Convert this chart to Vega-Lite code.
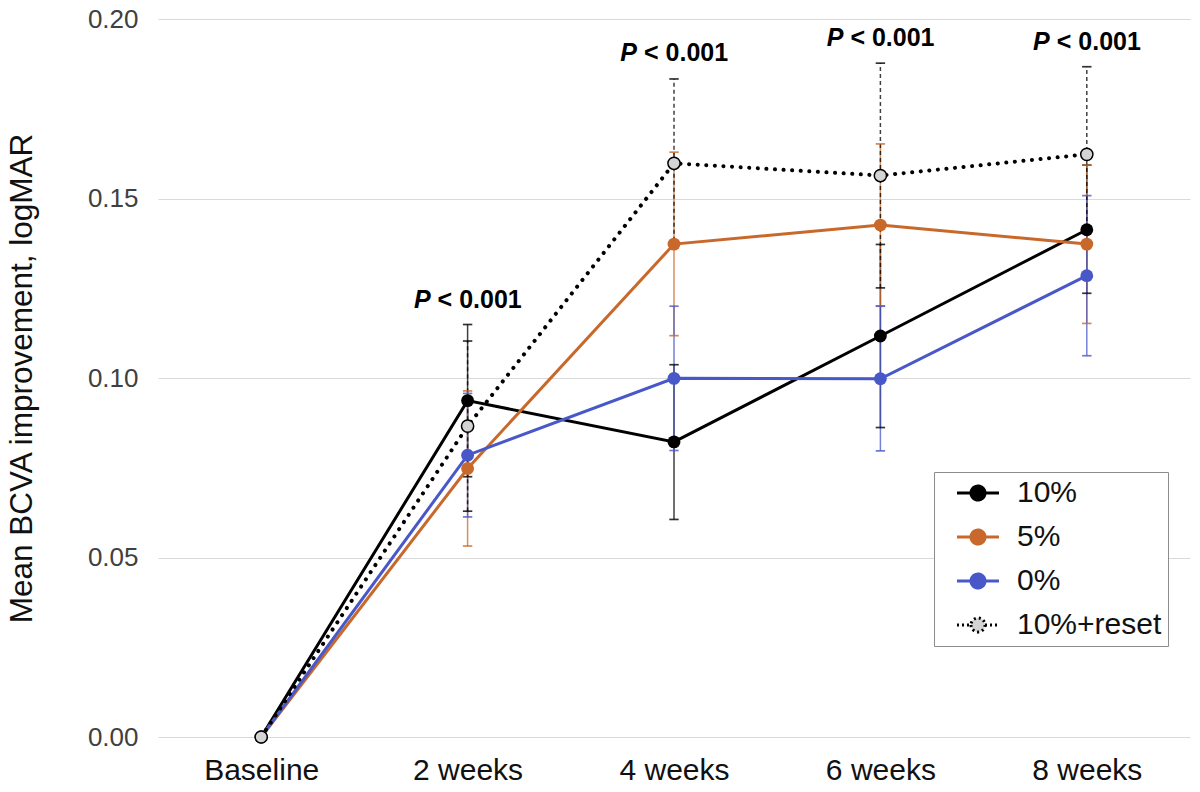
{
  "$schema": "https://vega.github.io/schema/vega-lite/v6.json",
  "autosize": {"type": "none"},
  "width": 1032,
  "height": 718,
  "padding": {"left": 158, "top": 19, "right": 10, "bottom": 55},
  "background": "white",
  "datasets": {
    "series": [
      {"group": "10%", "time": "Baseline", "week": 0, "mean": 0, "lo": 0, "hi": 0},
      {"group": "10%", "time": "2 weeks", "week": 2, "mean": 0.0937, "lo": 0.0725, "hi": 0.1149},
      {"group": "10%", "time": "4 weeks", "week": 4, "mean": 0.0822, "lo": 0.0606, "hi": 0.1037},
      {"group": "10%", "time": "6 weeks", "week": 6, "mean": 0.1117, "lo": 0.0862, "hi": 0.1372},
      {"group": "10%", "time": "8 weeks", "week": 8, "mean": 0.1413, "lo": 0.1236, "hi": 0.1593},
      {"group": "5%", "time": "Baseline", "week": 0, "mean": 0, "lo": 0, "hi": 0},
      {"group": "5%", "time": "2 weeks", "week": 2, "mean": 0.0748, "lo": 0.0532, "hi": 0.0964},
      {"group": "5%", "time": "4 weeks", "week": 4, "mean": 0.1373, "lo": 0.1118, "hi": 0.1629},
      {"group": "5%", "time": "6 weeks", "week": 6, "mean": 0.1426, "lo": 0.1201, "hi": 0.1652},
      {"group": "5%", "time": "8 weeks", "week": 8, "mean": 0.1373, "lo": 0.1152, "hi": 0.1593},
      {"group": "0%", "time": "Baseline", "week": 0, "mean": 0, "lo": 0, "hi": 0},
      {"group": "0%", "time": "2 weeks", "week": 2, "mean": 0.0785, "lo": 0.0613, "hi": 0.0957},
      {"group": "0%", "time": "4 weeks", "week": 4, "mean": 0.0999, "lo": 0.0798, "hi": 0.1200},
      {"group": "0%", "time": "6 weeks", "week": 6, "mean": 0.0998, "lo": 0.0797, "hi": 0.1200},
      {"group": "0%", "time": "8 weeks", "week": 8, "mean": 0.1285, "lo": 0.1062, "hi": 0.1508},
      {"group": "10%+reset", "time": "Baseline", "week": 0, "mean": 0, "lo": 0, "hi": 0},
      {"group": "10%+reset", "time": "2 weeks", "week": 2, "mean": 0.0866, "lo": 0.0629, "hi": 0.1103},
      {"group": "10%+reset", "time": "4 weeks", "week": 4, "mean": 0.1598, "lo": 0.1363, "hi": 0.1833},
      {"group": "10%+reset", "time": "6 weeks", "week": 6, "mean": 0.1564, "lo": 0.1251, "hi": 0.1877},
      {"group": "10%+reset", "time": "8 weeks", "week": 8, "mean": 0.1623, "lo": 0.1379, "hi": 0.1867}
    ],
    "pvals": [
      {"time": "2 weeks", "ypos": 0.1217, "p": "P", "rest": "< 0.001"},
      {"time": "4 weeks", "ypos": 0.1905, "p": "P", "rest": "< 0.001"},
      {"time": "6 weeks", "ypos": 0.1947, "p": "P", "rest": "< 0.001"},
      {"time": "8 weeks", "ypos": 0.1936, "p": "P", "rest": "< 0.001"}
    ]
  },
  "data": {"name": "series"},
  "encoding": {
    "x": {
      "field": "time",
      "type": "ordinal",
      "sort": ["Baseline", "2 weeks", "4 weeks", "6 weeks", "8 weeks"],
      "scale": {"type": "point", "padding": 0.5, "domain": ["Baseline", "2 weeks", "4 weeks", "6 weeks", "8 weeks"]},
      "axis": {"title": null, "labelAngle": 0, "domain": false, "ticks": false, "grid": false, "labelFontSize": 30, "labelColor": "#111111", "labelPadding": 18, "labelFont": "Liberation Sans"}
    }
  },
  "layer": [
    {
      "transform": [{"filter": "datum.time !== 'Baseline' && datum.group !== '10%+reset'"}],
      "mark": {"type": "rule", "strokeWidth": 1.5, "opacity": 1, "strokeOpacity": 0.75},
      "encoding": {
        "y": {"field": "lo", "type": "quantitative", "scale": {"domain": [0, 0.2], "nice": false}, "title": "Mean BCVA improvement, logMAR",
              "axis": {"values": [0, 0.05, 0.1, 0.15, 0.2], "format": ".2f"}},
        "y2": {"field": "hi"},
        "stroke": {"field": "group", "type": "nominal",
                   "scale": {"domain": ["10%", "5%", "0%", "10%+reset"], "range": ["#000000", "#C8692B", "#4858C8", "#000000"]}}
      }
    },
    {
      "transform": [{"filter": "datum.time !== 'Baseline' && datum.group === '10%+reset'"}],
      "mark": {"type": "rule", "strokeWidth": 1.5, "opacity": 1, "strokeOpacity": 0.75, "strokeDash": [4, 3], "color": "#000000"},
      "encoding": {
        "y": {"field": "lo", "type": "quantitative", "title": "Mean BCVA improvement, logMAR"},
        "y2": {"field": "hi"}
      }
    },
    {
      "transform": [{"filter": "datum.time !== 'Baseline'"}],
      "mark": {"type": "tick", "size": 8, "thickness": 0.3, "filled": false, "strokeWidth": 1.4, "opacity": 1, "strokeOpacity": 0.8},
      "encoding": {
        "y": {"field": "lo", "type": "quantitative", "title": "Mean BCVA improvement, logMAR"},
        "stroke": {"field": "group", "type": "nominal"}
      }
    },
    {
      "transform": [{"filter": "datum.time !== 'Baseline'"}],
      "mark": {"type": "tick", "size": 8, "thickness": 0.3, "filled": false, "strokeWidth": 1.4, "opacity": 1, "strokeOpacity": 0.8},
      "encoding": {
        "y": {"field": "hi", "type": "quantitative", "title": "Mean BCVA improvement, logMAR"},
        "stroke": {"field": "group", "type": "nominal"}
      }
    },
    {
      "transform": [{"filter": "datum.group !== '10%+reset'"}],
      "mark": {"type": "line", "strokeWidth": 3, "opacity": 1},
      "encoding": {
        "y": {"field": "mean", "type": "quantitative", "title": "Mean BCVA improvement, logMAR"},
        "stroke": {"field": "group", "type": "nominal"},
        "order": {"field": "week", "type": "quantitative"}
      }
    },
    {
      "transform": [{"filter": "datum.group === '10%+reset'"}],
      "mark": {"type": "line", "strokeWidth": 4, "strokeDash": [0.1, 8.5], "strokeCap": "round", "color": "#000000"},
      "encoding": {
        "y": {"field": "mean", "type": "quantitative", "title": "Mean BCVA improvement, logMAR"},
        "order": {"field": "week", "type": "quantitative"}
      }
    },
    {
      "transform": [{"filter": "datum.group !== '10%+reset'"}],
      "mark": {"type": "point", "filled": true, "size": 165, "opacity": 1},
      "encoding": {
        "y": {"field": "mean", "type": "quantitative", "title": "Mean BCVA improvement, logMAR"},
        "fill": {"field": "group", "type": "nominal",
                 "scale": {"domain": ["10%", "5%", "0%", "10%+reset"], "range": ["#000000", "#C8692B", "#4858C8", "#d4d4d4"]}}
      }
    },
    {
      "transform": [{"filter": "datum.group === '10%+reset'"}],
      "mark": {"type": "point", "filled": false, "size": 150, "opacity": 1, "fill": "#d4d4d4", "fillOpacity": 1, "stroke": "#000000", "strokeWidth": 1.5},
      "encoding": {
        "y": {"field": "mean", "type": "quantitative", "title": "Mean BCVA improvement, logMAR"}
      }
    },
    {
      "data": {"name": "pvals"},
      "mark": {"type": "text", "font": "Liberation Sans", "fontSize": 25, "fontWeight": "bold", "fontStyle": "italic", "align": "right", "baseline": "middle", "dx": -37, "color": "#000000"},
      "encoding": {
        "y": {"field": "ypos", "type": "quantitative", "title": "Mean BCVA improvement, logMAR"},
        "text": {"field": "p"}
      }
    },
    {
      "data": {"name": "pvals"},
      "mark": {"type": "text", "font": "Liberation Sans", "fontSize": 25, "fontWeight": "bold", "align": "left", "baseline": "middle", "dx": -30, "color": "#000000"},
      "encoding": {
        "y": {"field": "ypos", "type": "quantitative", "title": "Mean BCVA improvement, logMAR"},
        "text": {"field": "rest"}
      }
    },
    {
      "transform": [{"filter": "false"}],
      "mark": {"type": "point", "filled": false, "opacity": 1, "size": 10},
      "encoding": {
        "y": {"field": "mean", "type": "quantitative", "title": "Mean BCVA improvement, logMAR"},
        "stroke": {
          "field": "group", "type": "nominal",
          "legend": {
            "title": null, "orient": "none", "legendX": 776, "legendY": 453,
            "symbolType": "M-2.1,0H-0.7M0.7,0H2.1M-0.7,0A0.7,0.7,0,1,0,0.7,0A0.7,0.7,0,1,0,-0.7,0Z",
            "symbolSize": 400, "symbolOffset": 23, "symbolStrokeWidth": 3, "symbolOpacity": 1,
            "labelFontSize": 30, "labelFont": "Liberation Sans", "labelColor": "#111111", "labelOffset": 24,
            "padding": 6, "rowPadding": 14, "strokeColor": "#8c8c8c", "fillColor": "white"
          }
        },
        "fill": {
          "field": "group", "type": "nominal",
          "legend": {
            "title": null, "orient": "none", "legendX": 776, "legendY": 453,
            "symbolType": "M-2.1,0H-0.7M0.7,0H2.1M-0.7,0A0.7,0.7,0,1,0,0.7,0A0.7,0.7,0,1,0,-0.7,0Z",
            "symbolSize": 400, "symbolOffset": 23, "symbolStrokeWidth": 3, "symbolOpacity": 1,
            "labelFontSize": 30, "labelFont": "Liberation Sans", "labelColor": "#111111", "labelOffset": 24,
            "padding": 6, "rowPadding": 14, "strokeColor": "#8c8c8c", "fillColor": "white"
          }
        },
        "strokeDash": {
          "field": "group", "type": "nominal",
          "scale": {"domain": ["10%", "5%", "0%", "10%+reset"], "range": [[1, 0], [1, 0], [1, 0], [2, 3]]},
          "legend": {
            "title": null, "orient": "none", "legendX": 776, "legendY": 453,
            "symbolType": "M-2.1,0H-0.7M0.7,0H2.1M-0.7,0A0.7,0.7,0,1,0,0.7,0A0.7,0.7,0,1,0,-0.7,0Z",
            "symbolSize": 400, "symbolOffset": 23, "symbolStrokeWidth": 3, "symbolOpacity": 1,
            "labelFontSize": 30, "labelFont": "Liberation Sans", "labelColor": "#111111", "labelOffset": 24,
            "padding": 6, "rowPadding": 14, "strokeColor": "#8c8c8c", "fillColor": "white"
          }
        }
      }
    }
  ],
  "config": {
    "view": {"stroke": null},
    "font": "Liberation Sans",
    "axisY": {
      "grid": true, "gridColor": "#d9d9d9", "gridWidth": 1, "domain": false, "ticks": false,
      "labelFontSize": 26, "labelColor": "#404040", "labelPadding": 20, "labelFont": "Liberation Sans",
      "titleFont": "Liberation Sans", "titleFontSize": 31.5, "titleFontWeight": "normal", "titleColor": "#111111", "titlePadding": 49
    }
  }
}
